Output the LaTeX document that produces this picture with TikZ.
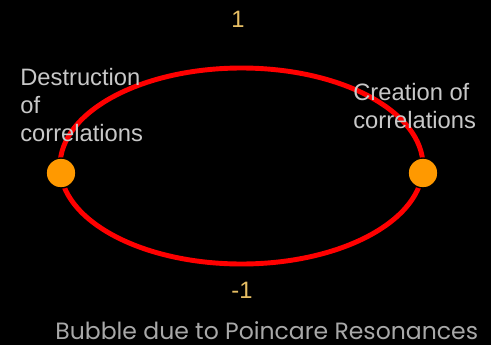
\documentclass[tikz,border=0pt]{standalone}
\usepackage{fontspec}
\setmainfont{Liberation Sans}
\newfontfamily\gothic{Poppins}
\definecolor{bubblered}{HTML}{FF0000}
\definecolor{dotorange}{HTML}{FF9900}
\definecolor{ticktan}{HTML}{E6BE64}
\definecolor{labelgray}{HTML}{C8C8C8}
\definecolor{captiongray}{HTML}{A8A8A8}
\begin{document}
\begin{tikzpicture}[x=0.02cm, y=-0.02cm,
  point/.style={circle, fill=dotorange, draw=black, line width=0.8pt,
                inner sep=0pt, minimum size=0.6cm},
  tag/.style={text=labelgray, font=\fontsize{13.5}{15.9}\selectfont,
              align=left, inner sep=0pt, anchor=base west},
  level/.style={text=ticktan, font=\fontsize{13.5}{16}\selectfont,
                inner sep=0pt, anchor=base}
]
  \fill[black] (0,0) rectangle (491,345);
  \useasboundingbox (0,0) rectangle (491,345);

  % the bubble
  \draw[bubblered, line width=2.8pt] (241.5,166) ellipse [x radius=181.5, y radius=98];
  \node[point] (destr) at (61,173) {};
  \node[point] (creat) at (423,173) {};

  \node[level] (top) at (238,27) {1};
  \node[level] (bottom) at (242,298) {-1};

  % base anchor sits on the last line
  \node[tag] (destrlabel) at (20,141) {Destruction\\of\\correlations};
  \node[tag] (creatlabel) at (353,128) {Creation of\\correlations};

  \node[text=captiongray, font=\gothic\fontsize{13.4}{15}\selectfont,
        inner sep=0pt, anchor=base west] (caption) at (55,339)
        {Bubble due to Poincare Resonances};
\end{tikzpicture}
\end{document}
